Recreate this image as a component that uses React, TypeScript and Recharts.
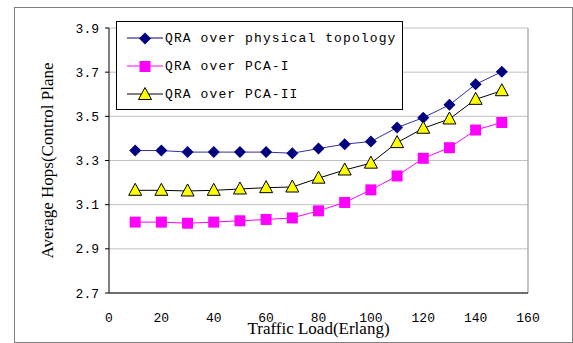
import React from 'react';
import { LineChart, Line, XAxis, YAxis, CartesianGrid, ReferenceLine } from 'recharts';

const loads = [10, 20, 30, 40, 50, 60, 70, 80, 90, 100, 110, 120, 130, 140, 150];
const physical = [3.345, 3.345, 3.338, 3.338, 3.338, 3.338, 3.333, 3.354, 3.374, 3.386, 3.449, 3.494, 3.552, 3.645, 3.702];
const pcaOne = [3.021, 3.021, 3.016, 3.021, 3.027, 3.033, 3.04, 3.072, 3.11, 3.167, 3.23, 3.31, 3.358, 3.438, 3.472];
const pcaTwo = [3.165, 3.165, 3.162, 3.165, 3.171, 3.177, 3.18, 3.22, 3.257, 3.288, 3.381, 3.446, 3.488, 3.577, 3.616];
const xTicks = [0, 20, 40, 60, 80, 100, 120, 140, 160];
const yTicks = [2.7, 2.9, 3.1, 3.3, 3.5, 3.7, 3.9];

const seriesNames = ['QRA over physical topology', 'QRA over PCA-I', 'QRA over PCA-II'];

const data = loads.map((load, i) => ({
  load,
  physical: physical[i],
  pcaOne: pcaOne[i],
  pcaTwo: pcaTwo[i],
}));

const monoFont = '"Liberation Mono", "DejaVu Sans Mono", monospace';
const serifFont = '"Liberation Serif", "DejaVu Serif", serif';

type Shape = 'diamond' | 'square' | 'triangle';

const markerPath = (shape: Shape, cx: number, cy: number) => {
  if (shape === 'diamond') {
    return `M${cx},${cy - 6}L${cx + 6},${cy}L${cx},${cy + 6}L${cx - 6},${cy}Z`;
  }
  if (shape === 'square') {
    return `M${cx - 5.5},${cy - 5.5}h11v11h-11Z`;
  }
  return `M${cx},${cy - 7}L${cx + 6.5},${cy + 5}L${cx - 6.5},${cy + 5}Z`;
};

const makeDot = (shape: Shape, fill: string, stroke: string) => (props: any) => {
  const { cx, cy, index } = props;
  if (cx == null || cy == null) return <g key={`d-${shape}-${index}`} />;
  return (
    <path
      key={`d-${shape}-${index}`}
      d={markerPath(shape, cx, cy)}
      fill={fill}
      stroke={stroke}
      strokeWidth={shape === 'triangle' ? 1 : 0}
    />
  );
};

const legendItems = [
  { name: seriesNames[0], shape: 'diamond' as Shape, line: '#000080', fill: '#000080', stroke: 'none' },
  { name: seriesNames[1], shape: 'square' as Shape, line: '#ff00ff', fill: '#ff00ff', stroke: 'none' },
  { name: seriesNames[2], shape: 'triangle' as Shape, line: '#000000', fill: '#ffff00', stroke: '#000000' },
];

// legend sits inside the plot, top-left, like the original spreadsheet chart
const LegendBox = () => (
  <div
    style={{
      position: 'absolute',
      left: 116,
      top: 21,
      width: 285,
      height: 85,
      border: '1px solid #000',
      background: '#fff',
      paddingTop: 2,
    }}
  >
    {legendItems.map((item) => (
      <div key={item.name} style={{ display: 'flex', alignItems: 'center', height: 28 }}>
        <svg width={50} height={18} style={{ marginLeft: 10 }}>
          <line x1={0} y1={9} x2={36} y2={9} stroke={item.line} strokeWidth={1} />
          <path d={markerPath(item.shape, 18, 9.5)} fill={item.fill} stroke={item.stroke} strokeWidth={1} />
        </svg>
        <span
          style={{
            fontFamily: monoFont,
            fontSize: 13,
            letterSpacing: 1.1,
            color: '#000',
            marginLeft: -12,
            whiteSpace: 'nowrap',
          }}
        >
          {item.name}
        </span>
      </div>
    ))}
  </div>
);

export default function App() {
  return (
    <div style={{ position: 'absolute', left: 0, top: 0, width: 573, height: 343, background: '#fff' }}>
      <div
        style={{
          position: 'absolute',
          left: 14,
          top: 7,
          width: 557,
          height: 334,
          border: '1px solid #808080',
        }}
      />
      <div style={{ position: 'absolute', left: 0, top: 0 }}>
        <LineChart
          width={573}
          height={343}
          data={data}
          margin={{ top: 28, right: 45, bottom: 0, left: 0 }}
        >
          <CartesianGrid vertical={false} stroke="#c0c0c0" strokeWidth={1} />
          <ReferenceLine x={160} stroke="#b0b0b0" strokeWidth={1.5} />
          <XAxis
            dataKey="load"
            type="number"
            domain={[0, 160]}
            ticks={xTicks}
            height={50}
            axisLine={{ stroke: '#000' }}
            tickLine={false}
            tickMargin={14}
            tick={{ fontFamily: monoFont, fontSize: 13, fill: '#000' }}
            label={{ value: 'Traffic Load(Erlang)', position: 'insideBottom', offset: 9, style: { fontFamily: serifFont, fontSize: 17, fill: '#000' } }}
          />
          <YAxis
            type="number"
            domain={[2.7, 3.9]}
            ticks={yTicks}
            width={109}
            axisLine={{ stroke: '#000' }}
            tickSize={4}
            tickLine={{ stroke: '#000' }}
            tickMargin={6}
            tickFormatter={(v: number) => v.toFixed(1)}
            tick={{ fontFamily: monoFont, fontSize: 13, fill: '#000' }}
            label={{
              value: 'Average Hops(Control Plane',
              angle: -90,
              position: 'insideLeft',
              offset: 47,
              style: { textAnchor: 'middle', fontFamily: serifFont, fontSize: 17, fill: '#000' },
            }}
          />
          <Line
            name={seriesNames[0]}
            dataKey="physical"
            stroke="#3030a0"
            strokeWidth={1}
            dot={makeDot('diamond', '#000080', 'none')}
            isAnimationActive={false}
          />
          <Line
            name={seriesNames[2]}
            dataKey="pcaTwo"
            stroke="#000000"
            strokeWidth={1}
            dot={makeDot('triangle', '#ffff00', '#000000')}
            isAnimationActive={false}
          />
          <Line
            name={seriesNames[1]}
            dataKey="pcaOne"
            stroke="#ff00ff"
            strokeWidth={1}
            dot={makeDot('square', '#ff00ff', 'none')}
            isAnimationActive={false}
          />
        </LineChart>
      </div>
      <LegendBox />
    </div>
  );
}
